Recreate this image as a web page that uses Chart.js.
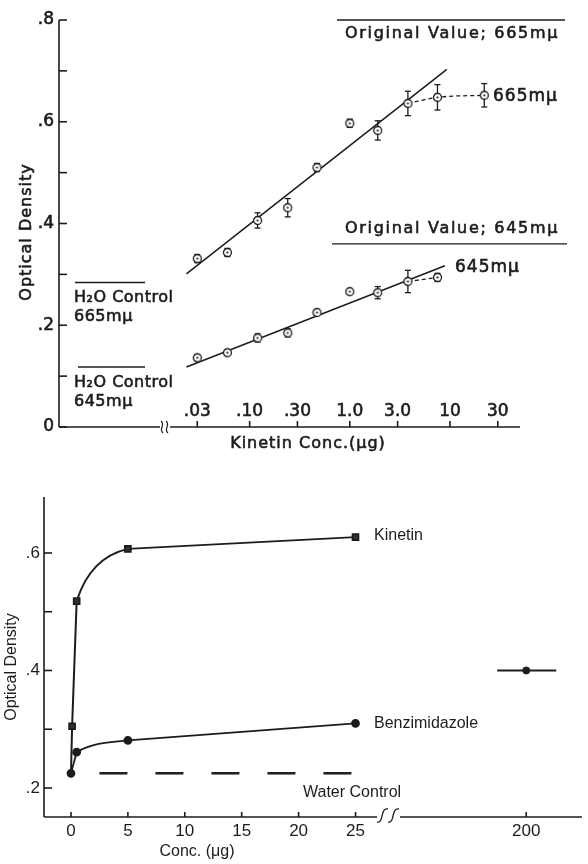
<!DOCTYPE html>
<html>
<head>
<meta charset="utf-8">
<script src="https://cdn.jsdelivr.net/npm/chart.js@4.4.1/dist/chart.umd.min.js"></script>
<style>
  html, body { margin: 0; padding: 0; background: #fff; }
  #wrap { position: relative; width: 588px; height: 864px; }
  canvas { position: absolute; left: 0; }
  #top { top: 0; }
  #bottom { top: 460px; }
</style>
</head>
<body>
<div id="wrap">
  <canvas id="top" width="588" height="460"></canvas>
  <canvas id="bottom" width="588" height="404"></canvas>
</div>
<script>
// ---- top panel: optical density vs kinetin (log scale) ----
const kinConc = [0.03, 0.06, 0.12, 0.24, 0.47, 1.0, 1.9, 3.8, 7.5, 22];
const od665 = [0.331, 0.343, 0.406, 0.431, 0.510, 0.597, 0.583, 0.636, 0.648, 0.652];
const err665 = [0.008, 0.008, 0.015, 0.018, 0.008, 0.008, 0.019, 0.024, 0.025, 0.023];
const od645 = [0.136, 0.146, 0.175, 0.185, 0.225, 0.266, 0.264, 0.286, 0.294];
const err645 = [0.006, 0.005, 0.008, 0.008, 0.005, 0.004, 0.012, 0.022, 0.008];

const fit665X = [0.0234, 9.3];
const fit665Y = [0.301, 0.703];
const fit645X = [0.0234, 8.9];
const fit645Y = [0.118, 0.317];

const h2o665 = 0.284;
const h2o645 = 0.118;
const orig665 = 0.80;
const orig645 = 0.36;

const topXTicks = [0.03, 0.1, 0.3, 1, 3, 10, 30];
const topXLabels = ['.03', '.10', '.30', '1.0', '3.0', '10', '30'];
const topYTicks = [0, 0.1, 0.2, 0.3, 0.4, 0.5, 0.6, 0.7, 0.8];
const topYLabelVals = [0.8, 0.6, 0.4, 0.2, 0];
const topYLabels = ['.8', '.6', '.4', '.2', '0'];

// ---- bottom panel: optical density vs concentration ----
const kinX = [0, 0.1, 0.5, 5, 25];
const kinY = [0.225, 0.305, 0.518, 0.607, 0.627];
const benzX = [0, 0.5, 5, 25];
const benzY = [0.225, 0.261, 0.281, 0.310];
const benzHighX = [200];
const benzHighY = [0.400];
const waterX = [2.5, 25];
const waterY = [0.225, 0.225];

const botXTicks = [0, 5, 10, 15, 20, 25, 200];
const botXLabels = ['0', '5', '10', '15', '20', '25', '200'];
const botYTicks = [0.2, 0.3, 0.4, 0.5, 0.6];
const botYLabelVals = [0.6, 0.4, 0.2];
const botYLabels = ['.6', '.4', '.2'];

const INK = '#1c1c1c';
const TOP_FONT = '16px "DejaVu Sans", sans-serif';
const TOP_BIG = '17px "DejaVu Sans", sans-serif';
const BOT_FONT = '16px "Liberation Sans", Arial, sans-serif';

// axis break after 25: 200 sits where 40 would be
const brk = v => v > 30 ? 40 + (v - 200) / 10 : v;
const pts = (xs, ys) => xs.map((v, i) => ({ x: v, y: ys[i] }));
// show only the segments listed (curved knee vs straight runs)
const onlySegs = list => ({ borderColor: c => list.includes(c.p0DataIndex) ? INK : 'rgba(0,0,0,0)' });

function seg(ctx, x1, y1, x2, y2) {
    ctx.beginPath();
    ctx.moveTo(x1, y1);
    ctx.lineTo(x2, y2);
    ctx.stroke();
}

function text(ctx, str, x, y, align) {
    ctx.textAlign = align || 'left';
    ctx.textBaseline = 'middle';
    ctx.fillText(str, x, y);
}

// heavier lettering for the top panel
function inked(ctx, str, x, y, align) {
    text(ctx, str, x, y, align);
    ctx.save();
    ctx.lineWidth = 0.6;
    ctx.strokeText(str, x, y);
    ctx.restore();
}

function ringDot() {
    const c = document.createElement('canvas');
    c.width = 11; c.height = 11;
    const g = c.getContext('2d');
    g.fillStyle = '#fff';
    g.strokeStyle = INK;
    g.lineWidth = 1.3;
    g.beginPath(); g.arc(5.5, 5.5, 4, 0, Math.PI * 2); g.fill(); g.stroke();
    g.fillStyle = INK;
    g.beginPath(); g.arc(5.5, 5.5, 1.1, 0, Math.PI * 2); g.fill();
    return c;
}
const ring = ringDot();

const topDecor = {
    id: 'topDecor',
    beforeDatasetsDraw(chart) {
        const { ctx, scales: { x, y } } = chart;
        ctx.save();
        ctx.strokeStyle = INK;
        ctx.lineWidth = 1.3;
        [[od665, err665], [od645, err645]].forEach(([vals, errs]) => {
            vals.forEach((v, i) => {
                const px = x.getPixelForValue(kinConc[i]);
                const y1 = y.getPixelForValue(v - errs[i]);
                const y2 = y.getPixelForValue(v + errs[i]);
                seg(ctx, px, y1, px, y2);
                seg(ctx, px - 3, y1, px + 3, y1);
                seg(ctx, px - 3, y2, px + 3, y2);
            });
        });
        ctx.restore();
    },
    afterDraw(chart) {
        const { ctx, chartArea: a, scales: { x, y } } = chart;
        ctx.save();
        ctx.strokeStyle = INK;
        ctx.fillStyle = INK;
        ctx.lineWidth = 1.6;

        // y axis
        seg(ctx, a.left, y.getPixelForValue(0.8), a.left, a.bottom);
        topYTicks.forEach(v => {
            const py = y.getPixelForValue(v);
            seg(ctx, a.left, py, a.left + 8, py);
        });
        ctx.font = TOP_BIG;
        topYLabelVals.forEach((v, i) => inked(ctx, topYLabels[i], a.left - 5, y.getPixelForValue(v), 'right'));

        // x axis with a break between the control part and the log part
        const b0 = a.left + 101, b1 = a.left + 111;
        seg(ctx, a.left, a.bottom, b0, a.bottom);
        seg(ctx, b1, a.bottom, a.right, a.bottom);
        ctx.lineWidth = 1.2;
        [b0 + 2, b0 + 7].forEach(cx => {
            ctx.beginPath();
            ctx.moveTo(cx - 1, a.bottom - 6);
            ctx.bezierCurveTo(cx + 4, a.bottom - 2, cx - 4, a.bottom + 2, cx + 1, a.bottom + 6);
            ctx.stroke();
        });
        ctx.lineWidth = 1.6;
        topXTicks.forEach((v, i) => {
            const px = x.getPixelForValue(v);
            seg(ctx, px, a.bottom, px, a.bottom - 6);
            inked(ctx, topXLabels[i], px, a.bottom - 15, 'center');
        });

        // axis titles
        ctx.font = TOP_FONT;
        ctx.letterSpacing = '1px';
        inked(ctx, 'Kinetin Conc.(\u03bcg)', 308, a.bottom + 17, 'center');
        ctx.save();
        ctx.translate(27, 232);
        ctx.rotate(-Math.PI / 2);
        inked(ctx, 'Optical Density', 0, 0, 'center');
        ctx.restore();

        // reference lines
        ctx.lineWidth = 1.4;
        ctx.letterSpacing = '1.7px';
        let py = y.getPixelForValue(orig665);
        seg(ctx, 337, py, 565, py);
        inked(ctx, 'Original Value; 665m\u03bc', 345, py + 14);
        py = y.getPixelForValue(orig645);
        seg(ctx, 332, py, 567, py);
        inked(ctx, 'Original Value; 645m\u03bc', 345, py - 15);

        ctx.letterSpacing = '0.5px';
        py = y.getPixelForValue(h2o665);
        seg(ctx, a.left + 16, py, a.left + 86, py);
        inked(ctx, 'H\u2082O Control', a.left + 15, py + 15);
        inked(ctx, '665m\u03bc', a.left + 15, py + 34);
        py = y.getPixelForValue(h2o645);
        seg(ctx, a.left + 19, py, a.left + 86, py);
        inked(ctx, 'H\u2082O Control', a.left + 15, py + 16);
        inked(ctx, '645m\u03bc', a.left + 15, py + 35);

        // series labels
        ctx.font = TOP_BIG;
        ctx.letterSpacing = '1px';
        inked(ctx, '665m\u03bc', 493, y.getPixelForValue(od665[od665.length - 1]) + 1);
        inked(ctx, '645m\u03bc', 455, y.getPixelForValue(fit645Y[1]) + 2);
        ctx.restore();
    }
};

new Chart(document.getElementById('top'), {
    type: 'scatter',
    data: {
        datasets: [
            { data: pts(fit665X, fit665Y), showLine: true, borderColor: INK, borderWidth: 1.5, pointRadius: 0, order: 2 },
            { data: pts(fit645X, fit645Y), showLine: true, borderColor: INK, borderWidth: 1.5, pointRadius: 0, order: 2 },
            { data: pts(kinConc.slice(7), od665.slice(7)), showLine: true, borderColor: INK, borderWidth: 1.3,
              borderDash: [4, 3], cubicInterpolationMode: 'monotone', pointRadius: 0, order: 2 },
            { data: pts(kinConc.slice(7, 9), od645.slice(7, 9)), showLine: true, borderColor: INK, borderWidth: 1.3,
              borderDash: [4, 3], pointRadius: 0, order: 2 },
            { data: pts(kinConc, od665), pointStyle: ring, pointRadius: 5, order: 1 },
            { data: pts(kinConc.slice(0, od645.length), od645), pointStyle: ring, pointRadius: 5, order: 1 }
        ]
    },
    options: {
        responsive: false,
        animation: false,
        layout: { padding: { left: 59, top: 20, right: 68, bottom: 33 } },
        plugins: { legend: { display: false }, tooltip: { enabled: false } },
        scales: {
            x: { type: 'logarithmic', min: 0.00125, max: 50, display: false },
            y: { type: 'linear', min: 0, max: 0.8, display: false }
        }
    },
    plugins: [topDecor]
});

const botDecor = {
    id: 'botDecor',
    afterDraw(chart) {
        const { ctx, chartArea: a, scales: { x, y } } = chart;
        ctx.save();
        ctx.strokeStyle = INK;
        ctx.fillStyle = INK;
        ctx.lineWidth = 1.6;

        // y axis
        seg(ctx, a.left, a.top, a.left, a.bottom);
        botYTicks.forEach(v => {
            const py = y.getPixelForValue(v);
            seg(ctx, a.left, py, a.left + 8, py);
        });
        ctx.font = '17px "Liberation Sans", Arial, sans-serif';
        botYLabelVals.forEach((v, i) => text(ctx, botYLabels[i], a.left - 4, y.getPixelForValue(v), 'right'));

        // x axis with break between 25 and 200
        const b0 = 377, b1 = 400;
        seg(ctx, a.left, a.bottom, b0, a.bottom);
        seg(ctx, b1, a.bottom, a.right, a.bottom);
        ctx.lineWidth = 1.3;
        [b0, b0 + 11].forEach(x0 => {
            ctx.beginPath();
            ctx.moveTo(x0, a.bottom + 5);
            ctx.bezierCurveTo(x0 + 7, a.bottom + 7, x0 + 3, a.bottom - 10, x0 + 11, a.bottom - 8);
            ctx.stroke();
        });
        ctx.lineWidth = 1.6;
        botXTicks.forEach((v, i) => {
            const px = x.getPixelForValue(brk(v));
            seg(ctx, px, a.bottom, px, a.bottom - 5);
            text(ctx, botXLabels[i], px, a.bottom + 14, 'center');
        });

        // horizontal bar through the 200 point
        const hx = x.getPixelForValue(brk(benzHighX[0]));
        const hy = y.getPixelForValue(benzHighY[0]);
        ctx.lineWidth = 2;
        seg(ctx, hx - 29, hy, hx + 30, hy);

        // titles and labels
        ctx.font = BOT_FONT;
        text(ctx, 'Conc. (\u03bcg)', 197, a.bottom + 35, 'center');
        ctx.save();
        ctx.translate(12, 207);
        ctx.rotate(-Math.PI / 2);
        text(ctx, 'Optical Density', 0, 0, 'center');
        ctx.restore();
        text(ctx, 'Kinetin', 374, y.getPixelForValue(kinY[kinY.length - 1]) - 2);
        text(ctx, 'Benzimidazole', 374, y.getPixelForValue(benzY[benzY.length - 1]));
        text(ctx, 'Water Control', 303, y.getPixelForValue(waterY[0]) + 19);
        ctx.restore();
    }
};

new Chart(document.getElementById('bottom'), {
    type: 'scatter',
    data: {
        datasets: [
            { data: pts(waterX, waterY), showLine: true, borderColor: INK, borderWidth: 2.5,
              borderDash: [28, 28], pointRadius: 0, order: 3 },
            // kinetin: curved knee between 0.5 and 5, straight elsewhere
            { data: pts(kinX, kinY), showLine: true, borderWidth: 2, tension: 0.4,
              segment: onlySegs([2]), pointRadius: 0, order: 2 },
            { data: pts(kinX, kinY), showLine: true, borderWidth: 2, tension: 0,
              segment: onlySegs([0, 1, 3]), pointStyle: 'rect',
              pointRadius: [0, 4, 4, 4, 4], backgroundColor: '#333', borderColor: INK, order: 1 },
            // benzimidazole: same treatment
            { data: pts(benzX, benzY), showLine: true, borderWidth: 1.8, tension: 0.4,
              segment: onlySegs([1]), pointRadius: 0, order: 2 },
            { data: pts(benzX, benzY), showLine: true, borderWidth: 1.8, tension: 0,
              segment: onlySegs([0, 2]), pointStyle: 'circle',
              pointRadius: 3.5, backgroundColor: INK, borderColor: INK, order: 1 },
            { data: pts(benzHighX.map(brk), benzHighY), pointStyle: 'circle', pointRadius: 3.5,
              backgroundColor: INK, borderColor: INK, order: 1 }
        ]
    },
    options: {
        responsive: false,
        animation: false,
        layout: { padding: { left: 44, top: 37, right: 5, bottom: 47 } },
        plugins: { legend: { display: false }, tooltip: { enabled: false } },
        scales: {
            x: { type: 'linear', min: -2.37, max: 44.9, display: false },
            y: { type: 'linear', min: 0.1506, max: 0.6953, display: false }
        }
    },
    plugins: [botDecor]
});
</script>
</body>
</html>
